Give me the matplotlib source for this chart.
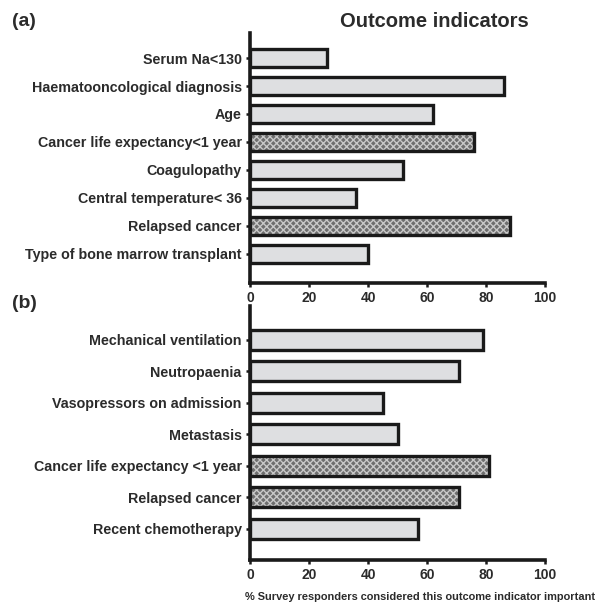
import matplotlib.pyplot as plt

plt.rcParams['font.family'] = ['Liberation Sans', 'DejaVu Sans']

# panel (a)
labels_a = ["Serum Na<130", "Haematooncological diagnosis", "Age",
            "Cancer life expectancy<1 year", "Coagulopathy",
            "Central temperature< 36", "Relapsed cancer",
            "Type of bone marrow transplant"]
values_a = [26, 86, 62, 76, 52, 36, 88, 40]
hatched_a = [False, False, False, True, False, False, True, False]

# panel (b)
labels_b = ["Mechanical ventilation", "Neutropaenia", "Vasopressors on admission",
            "Metastasis", "Cancer life expectancy <1 year", "Relapsed cancer",
            "Recent chemotherapy"]
values_b = [79, 71, 45, 50, 81, 71, 57]
hatched_b = [False, False, False, False, True, True, False]

xticks = [0, 20, 40, 60, 80, 100]
TXT = '#2b2b2b'


def draw_panel(ax, labels, values, hatched, top_pad, bot_pad):
    pos = list(range(len(labels)))
    for p, v, h in zip(pos, values, hatched):
        if h:
            ax.barh(p, v, height=0.64, color='#6e6e6e', edgecolor='#c8c8c8',
                    hatch='xxxxx', linewidth=0, zorder=2)
            ax.barh(p, v, height=0.64, fill=False, edgecolor='#1a1a1a',
                    linewidth=2.4, zorder=3)
        else:
            ax.barh(p, v, height=0.64, color='#dedfe1', edgecolor='#1a1a1a',
                    linewidth=2.4, zorder=3)
    ax.set_yticks(pos)
    ax.set_yticklabels(labels, fontsize=10.3, fontweight='bold', color=TXT)
    ax.set_ylim(len(labels) - 1 + bot_pad, -top_pad)
    ax.set_xlim(0, 100)
    ax.set_xticks(xticks)
    ax.set_xticklabels([str(t) for t in xticks], fontsize=10,
                       fontweight='bold', color=TXT)
    for s in ['top', 'right']:
        ax.spines[s].set_visible(False)
    for s in ['left', 'bottom']:
        ax.spines[s].set_linewidth(2.6)
        ax.spines[s].set_color('#1a1a1a')
    ax.tick_params(axis='both', length=3, width=1.8, color='#1a1a1a', pad=3)


fig = plt.figure(figsize=(5.99, 6.04), dpi=100)
ax_a = fig.add_axes([0.4174, 0.5315, 0.4925, 0.414])
ax_b = fig.add_axes([0.4174, 0.0728, 0.4925, 0.4205])

draw_panel(ax_a, labels_a, values_a, hatched_a, 0.9, 1.05)
draw_panel(ax_b, labels_b, values_b, hatched_b, 1.08, 1.0)

fig.text(0.702, 0.011, "% Survey responders considered this outcome indicator important",
         fontsize=7.9, fontweight='bold', color=TXT, ha='center', va='center')

fig.text(0.02, 0.965, "(a)", fontsize=14, fontweight='bold', color=TXT, va='center')
fig.text(0.02, 0.497, "(b)", fontsize=14, fontweight='bold', color=TXT, va='center')
fig.text(0.725, 0.965, "Outcome indicators", fontsize=14.5, fontweight='bold',
         color=TXT, va='center', ha='center')

fig.savefig('out.png', dpi=100)
